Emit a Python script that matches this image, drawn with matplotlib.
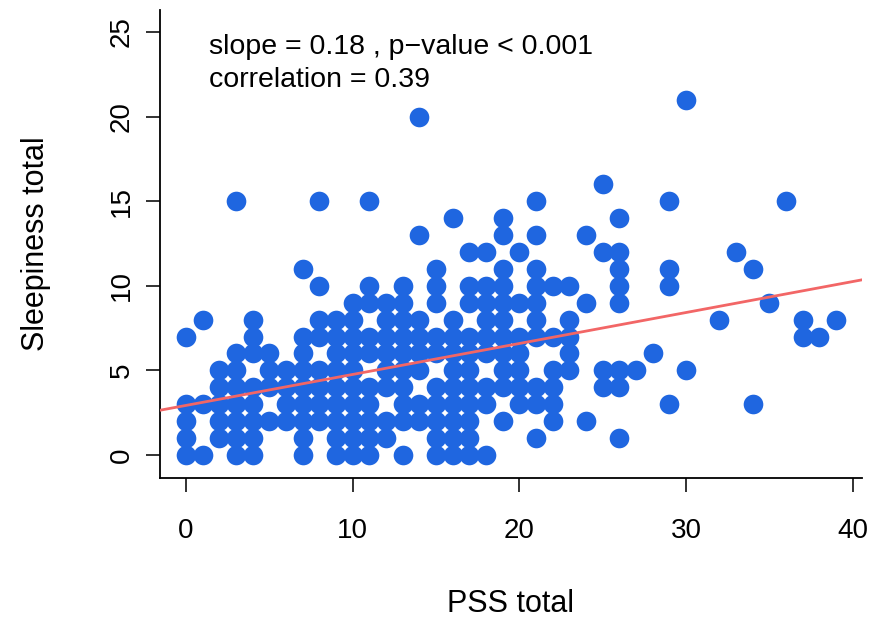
import matplotlib
matplotlib.use("Agg")
import matplotlib.pyplot as plt
import numpy as np

plt.rcParams.update({
    "font.family": ["Liberation Sans", "DejaVu Sans"],
    "font.size": 20,
})

# PSS total values and the sleepiness totals observed at each of them
pss_values = [0, 1, 2, 3, 4, 5, 6, 7, 8, 9, 10, 11, 12, 13, 14, 15, 16, 17, 18, 19,
              20, 21, 22, 23, 24, 25, 26, 27, 28, 29, 30, 32, 33, 34, 35, 36, 37, 38, 39]
sleep_by_pss = [
    [0, 1, 2, 3, 7],
    [0, 3, 8],
    [1, 2, 3, 4, 5],
    [0, 1, 2, 3, 4, 5, 6, 15],
    [0, 1, 2, 3, 4, 6, 7, 8],
    [2, 4, 5, 6],
    [2, 3, 4, 5],
    [0, 1, 2, 3, 4, 5, 6, 7, 11],
    [2, 3, 4, 5, 7, 8, 10, 15],
    [0, 1, 2, 3, 4, 5, 6, 7, 8],
    [0, 1, 2, 3, 4, 5, 6, 7, 8, 9],
    [0, 1, 2, 3, 4, 6, 7, 9, 10, 15],
    [1, 2, 4, 5, 6, 7, 8, 9],
    [0, 2, 3, 4, 5, 6, 7, 8, 9, 10],
    [2, 3, 5, 6, 7, 8, 13, 20],
    [0, 1, 2, 3, 4, 6, 7, 9, 10, 11],
    [0, 1, 2, 3, 4, 5, 6, 7, 8, 14],
    [0, 1, 2, 3, 4, 5, 6, 7, 9, 10, 12],
    [0, 3, 4, 6, 7, 8, 9, 10, 12],
    [2, 4, 5, 6, 7, 8, 9, 10, 11, 13, 14],
    [3, 4, 5, 6, 7, 9, 12],
    [1, 3, 4, 7, 8, 9, 10, 11, 13, 15],
    [2, 3, 4, 5, 7, 10],
    [5, 6, 7, 8, 10],
    [2, 9, 13],
    [4, 5, 12, 16],
    [1, 4, 5, 9, 10, 11, 12, 14],
    [5],
    [6],
    [3, 10, 11, 15],
    [5, 21],
    [8],
    [12],
    [3, 11],
    [9],
    [15],
    [7, 8],
    [7],
    [8],
]

# fitted line as annotated on the chart
fit_slope = 0.183
fit_intercept = 2.93
slope_text = "slope = 0.18 , p\u2212value < 0.001"
corr_text = "correlation = 0.39"

pss = np.concatenate([[p] * len(s) for p, s in zip(pss_values, sleep_by_pss)])
sleep = np.concatenate(sleep_by_pss)

fig = plt.figure(figsize=(8.74, 6.18), dpi=100)
ax = fig.add_axes([160 / 874, (618 - 478) / 618, (862 - 160) / 874, (478 - 10) / 618])

ax.scatter(pss, sleep, s=200, color="#1f66e0", linewidths=0, zorder=2)

x_lo, x_hi = -1.56, 40.56
xs = np.array([x_lo, x_hi])
ax.plot(xs, fit_intercept + fit_slope * xs, color="#f26666", lw=2, zorder=3)

ax.set_xlim(x_lo, x_hi)
ax.set_ylim(-1.36, 26.3)
ax.set_xticks([0, 10, 20, 30, 40])
ax.set_yticks([0, 5, 10, 15, 20, 25])
ax.set_yticklabels(["0", "5", "10", "15", "20", "25"], rotation=90, va="center")

for side in ["top", "right"]:
    ax.spines[side].set_visible(False)
for side in ["left", "bottom"]:
    ax.spines[side].set_linewidth(1.3)
ax.tick_params(axis="both", length=10, width=1.3, labelsize=20, color="#222222")
ax.tick_params(axis="x", pad=19)
ax.tick_params(axis="y", pad=8)

ax.set_xlabel("PSS total", fontsize=22, labelpad=32)
ax.set_ylabel("Sleepiness total", fontsize=22, labelpad=42)

ax.text(0.07, 0.905, slope_text, transform=ax.transAxes, fontsize=20.5)
ax.text(0.07, 0.835, corr_text, transform=ax.transAxes, fontsize=20.5)

fig.savefig("out.png", dpi=100)
